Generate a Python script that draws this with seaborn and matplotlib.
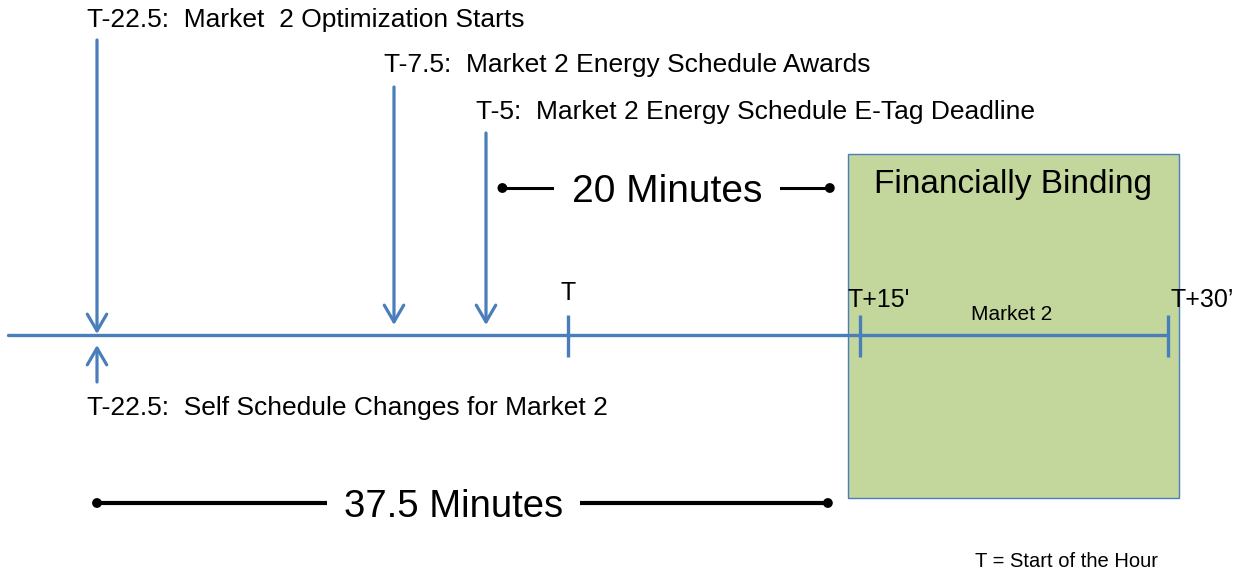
import numpy as np
import pandas as pd
import matplotlib
matplotlib.use("Agg")
import matplotlib.pyplot as plt
import seaborn as sns
from matplotlib.patches import Rectangle

# ---------------- data (minutes relative to T = start of the hour) ----------------
event_times = [-22.5, -7.5, -5.0]
event_labels = ["T-22.5:  Market  2 Optimization Starts",
                "T-7.5:  Market 2 Energy Schedule Awards",
                "T-5:  Market 2 Energy Schedule E-Tag Deadline"]
self_sched_time = -22.5
self_sched_label = "T-22.5:  Self Schedule Changes for Market 2"
tick_times = [0, 15, 30]
tick_labels = ["T", "T+15'", "T+30\u2019"]
binding_window = [14.4, 30.55]
binding_label = "Financially Binding"
market_label = "Market 2"
span_labels = ["20 Minutes", "37.5 Minutes"]
span_starts = [-4.0, -22.5]
span_ends = [13.45, 13.35]
footnote = "T = Start of the Hour"

# ---------------- style ----------------
sns.set_theme(style="white")
plt.rcParams["font.family"] = ["Liberation Sans", "DejaVu Sans"]
plt.rcParams["text.color"] = "black"
BLUE = "#4A7EBB"
GREEN = "#C3D69B"

# schematic (non-linear) time axis of the original diagram
knot_t = [-27.4, -22.5, -7.5, -5.0, 0.0, 15.0, 30.0, 34.05]
knot_px = [0, 97, 394, 486, 568, 860, 1168, 1251]
fwd = lambda t: np.interp(t, knot_t, knot_px)
inv = lambda p: np.interp(p, knot_px, knot_t)

fig = plt.figure(figsize=(12.51, 5.73), dpi=100)
ax = fig.add_axes([0, 0, 1, 1])
ax.set_xscale("function", functions=(fwd, inv))
ax.set_xlim(knot_t[0], knot_t[-1])
ax.set_ylim(573, 0)
ax.axis("off")

LINE_Y = 335

# financially binding box
ax.add_patch(Rectangle((binding_window[0], 154), binding_window[1] - binding_window[0], 344,
                       facecolor=GREEN, edgecolor=BLUE, lw=1.0, zorder=1))
ax.text(np.mean(binding_window), 193, binding_label, ha="center", va="baseline",
        fontsize=24, color="black", zorder=4)

# main timeline
tl = pd.DataFrame({"t": [-27.0, tick_times[-1]], "y": [LINE_Y, LINE_Y]})
sns.lineplot(data=tl, x="t", y="y", ax=ax, color=BLUE, lw=2.4, zorder=2,
             estimator=None, sort=False)
ax.vlines(tick_times, 315, 357, color=BLUE, lw=2.4, zorder=2)
tick_df = pd.DataFrame({"t": tick_times, "lab": tick_labels})
ax.text(tick_df.t[0], 300, tick_df.lab[0], ha="center", va="baseline", fontsize=18, color="black")
ax.annotate(tick_df.lab[1], xy=(tick_df.t[1], 307), xytext=(-9, 0), textcoords="offset points",
            ha="left", va="baseline", fontsize=18, zorder=4, color="black")
ax.annotate(tick_df.lab[2], xy=(tick_df.t[2], 307), xytext=(1.5, 0), textcoords="offset points",
            ha="left", va="baseline", fontsize=18, zorder=4, color="black")
ax.text(np.mean(tick_times[1:]) - 0.1, 320, market_label, ha="center", va="baseline",
        fontsize=15, zorder=4, color="black")

# event arrows (down)
arrow_top = [40, 87, 133]
arrow_tip = [334, 325, 325]
label_base = [27, 72, 119]
astyle = "->,head_length=0.6,head_width=0.35"
for t, lab, y0, y1, yb in zip(event_times, event_labels, arrow_top, arrow_tip, label_base):
    ax.annotate("", xy=(t, y1), xytext=(t, y0),
                arrowprops=dict(arrowstyle=astyle, color=BLUE, lw=2.3, mutation_scale=20,
                                shrinkA=0, shrinkB=0), zorder=3)
    ax.annotate(lab, xy=(t, yb), xytext=(-7.2, 0), textcoords="offset points",
                ha="left", va="baseline", fontsize=19, zorder=4, color="black")

# self schedule arrow (up)
ax.annotate("", xy=(self_sched_time, 345), xytext=(self_sched_time, 382),
            arrowprops=dict(arrowstyle=astyle, color=BLUE, lw=2.3, mutation_scale=20,
                            shrinkA=0, shrinkB=0), zorder=3)
ax.annotate(self_sched_label, xy=(self_sched_time, 415), xytext=(-7.2, 0),
            textcoords="offset points", ha="left", va="baseline", fontsize=19, color="black")

# duration spans
span_y = [188, 503]
span_lw = [2.2, 3.0]
span_fs = [28, 27.5]
span_shift = [1, -9]
for lab, s, e, y, lw, fs, sh in zip(span_labels, span_starts, span_ends, span_y, span_lw,
                                    span_fs, span_shift):
    df = pd.DataFrame({"t": [s, e], "y": [y, y]})
    sns.lineplot(data=df, x="t", y="y", ax=ax, color="black", lw=lw, zorder=3,
                 estimator=None, sort=False)
    sns.scatterplot(data=df, x="t", y="y", ax=ax, color="black", s=50, zorder=3,
                    edgecolor="none")
    mid = inv((fwd(s) + fwd(e)) / 2.0 + sh)
    ax.text(mid, y, lab, ha="center", va="center_baseline", fontsize=fs, zorder=4,
            color="black",
            bbox=dict(boxstyle="square,pad=0.45", facecolor="white", edgecolor="none"))

ax.text(inv(975), 567, footnote, ha="left", va="baseline", fontsize=14.5, color="black")

ax.set_xlabel("")
ax.set_ylabel("")
if ax.get_legend():
    ax.get_legend().remove()
fig.savefig("out.png", dpi=100)
